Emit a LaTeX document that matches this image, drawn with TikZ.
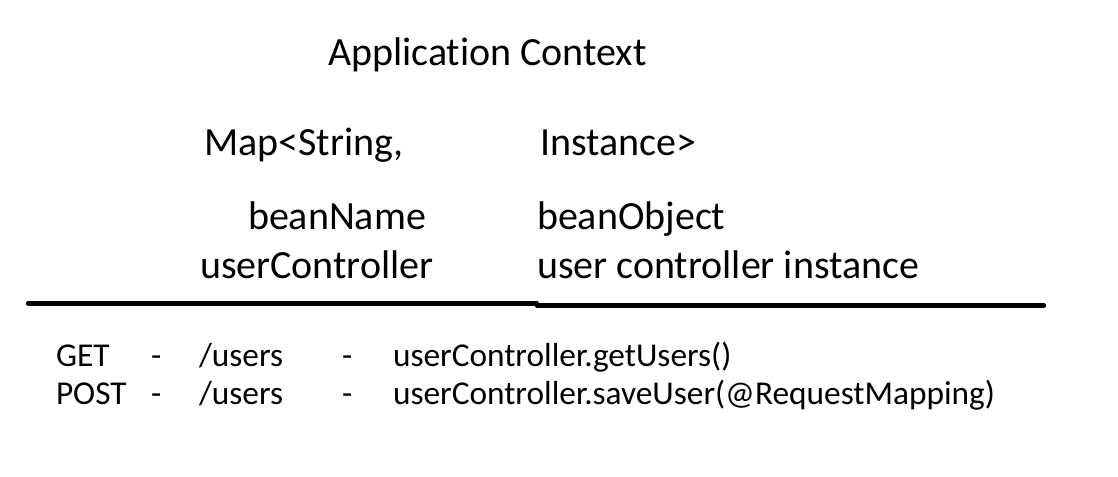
\documentclass[tikz,border=0pt]{standalone}
\usepackage{fontspec}
\setmainfont[Ligatures={NoCommon}]{Carlito}
\usepackage{tikz}

\begin{document}
\begin{tikzpicture}[x=.75pt,y=-.75pt,
  big/.style={inner sep=0pt,outer sep=0pt,anchor=base west,font=\fontsize{30}{36}\selectfont},
  small/.style={inner sep=0pt,outer sep=0pt,anchor=base west,font=\fontsize{25}{30}\selectfont},
  rule/.style={draw=black,line width=3.2pt,line cap=round}]
\path[use as bounding box] (0,0) rectangle (1118,477);
\path[fill=white,draw=none] (0,0) rectangle (1118,477);
\node[big] (title) at (328,66) {Application Context};
\node[big] (mapkey) at (204,156) {Map<String,};
\node[big] (mapval) at (540,156) {Instance>};
\node[big] (keyhead) at (248,230) {beanName};
\node[big] (valhead) at (537,230) {beanObject};
\node[big] (keyrow) at (200,279) {userController};
\node[big] (valrow) at (537,279) {user controller instance};
\coordinate (ruleA) at (28,303.5);
\coordinate (ruleB) at (537,303.5);
\coordinate (ruleC) at (537,305.5);
\coordinate (ruleD) at (1044,305.5);
\draw[rule] (ruleA) -- (ruleB);
\draw[rule] (ruleC) -- (ruleD);
\node[small] (getverb) at (56,367) {GET};
\node[small] (getdashA) at (151,367) {-};
\node[small] (getpath) at (199,367) {/users};
\node[small] (getdashB) at (342,367) {-};
\node[small] (gethandler) at (393,367) {userController.getUsers()};
\node[small] (postverb) at (56,405) {POST};
\node[small] (postdashA) at (151,405) {-};
\node[small] (postpath) at (199,405) {/users};
\node[small] (postdashB) at (342,405) {-};
\node[small] (posthandler) at (393,405) {userController.saveUser(@RequestMapping)};
\end{tikzpicture}
\end{document}
